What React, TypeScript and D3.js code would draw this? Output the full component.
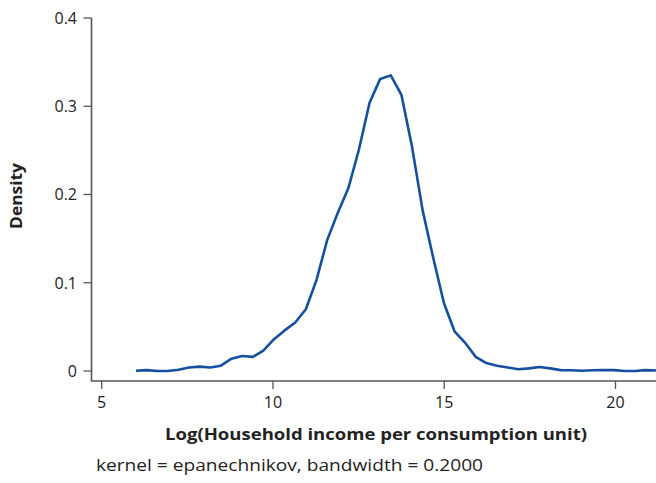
import React from "react";
import * as d3 from "d3";

const xStart = 6.0;
const xStep = 0.31;
const densityValues = [
  0.0003, 0.001, 0.0, 0.0, 0.0015, 0.004, 0.005, 0.004, 0.006, 0.014,
  0.017, 0.016, 0.023, 0.036, 0.046, 0.055, 0.07, 0.103, 0.148, 0.179,
  0.207, 0.251, 0.304, 0.331, 0.335, 0.313, 0.254, 0.182, 0.128, 0.077,
  0.045, 0.032, 0.016, 0.009, 0.006, 0.004, 0.002, 0.003, 0.0045, 0.003,
  0.001, 0.0008, 0.0003, 0.0008, 0.001, 0.001, 0.0, 0.0, 0.001, 0.0005,
];
const xTicks = [5, 10, 15, 20];
const yTicks = [0, 0.1, 0.2, 0.3, 0.4];
const xTitle = "Log(Household income per consumption unit)";
const yTitle = "Density";
const caption = "kernel = epanechnikov, bandwidth = 0.2000";

const W = 656;
const H = 483;

export default function App() {
  const x = d3.scaleLinear().domain([5, 20]).range([101.7, 615.5]);
  const y = d3.scaleLinear().domain([0, 0.4]).range([371, 18]);
  const pts = densityValues.map((v, i) => [xStart + i * xStep, v] as [number, number]);
  const line = d3
    .line<[number, number]>()
    .x((d) => x(d[0]))
    .y((d) => y(d[1]));
  const axisColor = "#555";
  const textColor = "#222";
  const font = "'Open Sans', sans-serif";
  const axisY = 381;
  const axisX = 91.5;
  return (
    <svg
      width={W}
      height={H}
      style={{ position: "absolute", left: 0, top: 0 }}
      fontFamily={font}
    >
      <rect width={W} height={H} fill="#fff" />
      {/* y axis */}
      <line x1={axisX} x2={axisX} y1={y(0.4)} y2={axisY} stroke={axisColor} strokeWidth={1.6} />
      {yTicks.map((t) => (
        <g key={t}>
          <line x1={axisX - 8} x2={axisX} y1={y(t)} y2={y(t)} stroke={axisColor} strokeWidth={1.3} />
          <text
            x={77}
            y={y(t)}
            dy="0.36em"
            textAnchor="end"
            fontSize={16}
            fill={textColor}
          >
            {t === 0 ? "0" : t.toFixed(1)}
          </text>
        </g>
      ))}
      {/* x axis */}
      <line x1={axisX - 0.8} x2={W} y1={axisY} y2={axisY} stroke={axisColor} strokeWidth={1.6} />
      {xTicks.map((t) => (
        <g key={t}>
          <line x1={x(t)} x2={x(t)} y1={axisY} y2={axisY + 8} stroke={axisColor} strokeWidth={1.3} />
          <text x={x(t)} y={408} textAnchor="middle" fontSize={16} fill={textColor}>
            {t}
          </text>
        </g>
      ))}
      <text
        x={376}
        y={440}
        textAnchor="middle"
        fontSize={16}
        fontWeight="bold"
        fill={textColor}
        textLength={422}
        lengthAdjust="spacingAndGlyphs"
      >
        {xTitle}
      </text>
      <text
        transform={`translate(22,196) rotate(-90)`}
        textAnchor="middle"
        fontSize={16}
        fontWeight="bold"
        fill={textColor}
        textLength={66}
        lengthAdjust="spacingAndGlyphs"
      >
        {yTitle}
      </text>
      <text
        x={96}
        y={471}
        fontSize={16}
        fill={textColor}
        textLength={387}
        lengthAdjust="spacingAndGlyphs"
      >
        {caption}
      </text>
      <path d={line(pts) || ""} fill="none" stroke="#1550a0" strokeWidth={2.6} strokeLinejoin="round" />
    </svg>
  );
}
